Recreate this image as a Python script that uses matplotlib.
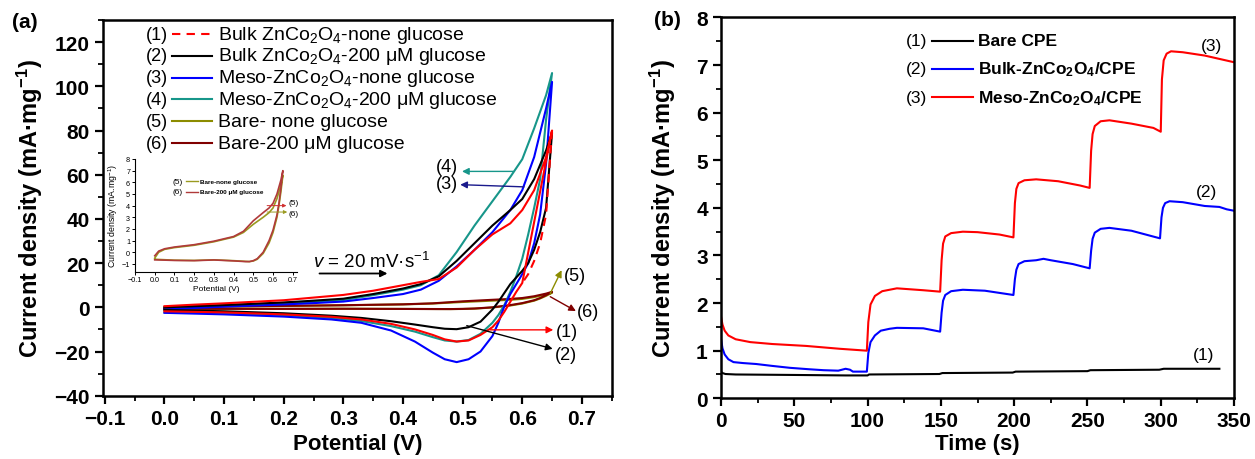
import matplotlib
matplotlib.use("Agg")
import matplotlib.pyplot as plt
from matplotlib.ticker import MultipleLocator

plt.rcParams['font.family'] = ['Liberation Sans', 'DejaVu Sans']
plt.rcParams['mathtext.fontset'] = 'custom'
plt.rcParams['mathtext.rm'] = 'Liberation Sans'
plt.rcParams['mathtext.it'] = 'Liberation Sans:italic'
plt.rcParams['mathtext.bf'] = 'Liberation Sans:bold'
plt.rcParams['mathtext.default'] = 'regular'

# ---- (a) cyclic voltammograms ----
E_up = [0, 0.05, 0.1, 0.15, 0.2, 0.25, 0.3, 0.35, 0.4, 0.43, 0.46, 0.49,
        0.52, 0.55, 0.58, 0.6, 0.62, 0.64, 0.65]
E_dn = [0.65, 0.64, 0.63, 0.62, 0.61, 0.6, 0.59, 0.58, 0.57, 0.56, 0.55, 0.53,
        0.51, 0.49, 0.47, 0.45, 0.42, 0.38, 0.33, 0.28, 0.2, 0.1, 0.0]

bulk_none_up = [0.5, 1.2, 1.8, 2.5, 3.2, 4.4, 5.6, 7.5, 10, 11.5, 12.8, 18,
                26, 33, 38, 44, 53, 68, 80]
bulk_none_dn = [80, 42, 29, 21, 15, 11, 7, 2.5, -2, -6, -9, -12.5,
                -15, -15.5, -14.5, -12.5, -10, -7.5, -5.5, -4.3, -3.2, -2.3, -1.8]
bulk_glu_up = [0.0, 0.5, 1.0, 1.6, 2.2, 3.0, 3.9, 6.0, 8.5, 10.5, 14, 21,
               29, 37, 44, 49, 58, 71, 79]
bulk_glu_dn = [79, 45, 34, 26, 20, 16.5, 13.5, 10.5, 6.5, 2.5, -1, -6.5,
               -9, -9.9, -9.7, -9, -7.8, -6.3, -4.8, -3.8, -2.7, -1.8, -1.2]
meso_none_up = [-1.0, -0.3, 0.3, 0.8, 1.3, 1.9, 2.6, 4.2, 6.0, 8.0, 12, 18.5,
                26, 34, 44, 53, 68, 90, 102]
meso_none_dn = [102, 65, 42, 29, 20, 15, 10.5, 6, 0.5, -7, -13, -20,
                -23.5, -24.8, -23.5, -20.5, -15.5, -10.5, -7, -5.5, -4.2, -3.2, -2.5]
meso_glu_up = [0.0, 0.5, 1.0, 1.5, 2.0, 2.5, 3.3, 5.5, 8.0, 10, 14.5, 25,
               37, 48, 59, 67, 81, 96, 106]
meso_glu_dn = [106, 85, 58, 45, 33, 22, 14, 7, 1, -3.5, -7, -12,
               -14.8, -15.5, -15, -13.5, -11, -8.5, -6.2, -4.8, -3.5, -2.7, -2.2]

# bare CPE (same data in main plot and inset)
Eb_up = [0, 0.02, 0.05, 0.1, 0.2, 0.3, 0.4, 0.45, 0.5, 0.55, 0.58, 0.6, 0.62, 0.64, 0.65]
Eb_dn = [0.65, 0.64, 0.63, 0.62, 0.6, 0.58, 0.55, 0.52, 0.5, 0.48, 0.46, 0.4, 0.3, 0.2, 0.1, 0.0]
bare_none_up = [-0.5, 0.0, 0.25, 0.4, 0.6, 0.9, 1.3, 1.7, 2.4, 3.0, 3.4, 3.8, 4.6, 5.8, 6.6]
bare_none_dn = [6.6, 5.2, 4.0, 3.0, 1.7, 0.8, -0.1, -0.6, -0.75, -0.8, -0.78, -0.72, -0.65, -0.7, -0.68, -0.6]
bare_glu_up = [-0.3, 0.1, 0.3, 0.45, 0.65, 0.95, 1.35, 1.8, 2.7, 3.4, 3.8, 4.2, 5.0, 6.2, 7.0]
bare_glu_dn = [7.0, 5.5, 4.2, 3.2, 1.9, 1.0, 0.0, -0.55, -0.72, -0.8, -0.8, -0.74, -0.66, -0.72, -0.7, -0.65]

# ---- (b) amperometric response ----
t_red = [0, 1, 2.5, 5, 10, 20, 35, 58, 81, 99.5, 100.5, 102, 105, 110, 120, 138, 149.5,
         150.5, 151.5, 153, 157, 165, 175, 190, 199.5, 200.5, 201.5, 203, 207, 215, 230, 245,
         251.5, 252.5, 253.5, 255, 259, 265, 280, 295, 300, 300.8, 302, 304, 307, 315, 330, 350]
y_red = [1.72, 1.55, 1.42, 1.32, 1.24, 1.18, 1.14, 1.10, 1.04, 1.00, 1.6, 1.97, 2.15, 2.25,
         2.31, 2.27, 2.24, 2.9, 3.25, 3.4, 3.47, 3.5, 3.49, 3.44, 3.38, 4.1, 4.4, 4.52, 4.58,
         4.6, 4.56, 4.47, 4.42, 5.2, 5.55, 5.72, 5.82, 5.84, 5.77, 5.68, 5.6, 6.7, 7.1, 7.24,
         7.29, 7.27, 7.2, 7.06]
t_blue = [0, 1, 2.5, 5, 8.5, 15, 24, 35, 47, 60, 70, 80, 85, 88, 90, 99.5, 100.5, 102, 105,
          109, 115, 120, 138, 149.5, 150.5, 151.5, 153, 157, 165, 180, 199.5, 200.5, 201.5,
          203, 207, 215, 220, 225, 240, 251.5, 252.5, 253.5, 255, 259, 265, 280, 299.5, 300.5,
          301.5, 303, 306, 315, 330, 340, 345, 350]
y_blue = [1.25, 1.05, 0.92, 0.82, 0.76, 0.74, 0.72, 0.68, 0.64, 0.61, 0.59, 0.58, 0.62, 0.6,
          0.56, 0.56, 0.95, 1.18, 1.32, 1.42, 1.46, 1.48, 1.47, 1.40, 1.8, 2.05, 2.17, 2.25,
          2.28, 2.26, 2.17, 2.5, 2.7, 2.82, 2.88, 2.9, 2.93, 2.9, 2.82, 2.73, 3.1, 3.35, 3.48,
          3.56, 3.58, 3.52, 3.36, 3.8, 4.0, 4.1, 4.14, 4.12, 4.04, 4.02, 3.97, 3.94]
t_black = [0, 1, 3, 10, 50, 85, 100, 101, 149, 151, 199, 201, 250, 252, 299, 302, 340]
y_black = [0.56, 0.53, 0.51, 0.5, 0.49, 0.48, 0.48, 0.5, 0.51, 0.53, 0.54, 0.56, 0.57,
           0.59, 0.6, 0.62, 0.62]

RED, BLACK, BLUE = '#FF0000', '#000000', '#0000FF'
TEAL, OLIVE, MAROON = '#17968A', '#8C8C00', '#800000'


def style_axes(ax, size):
    for s in ax.spines.values():
        s.set_linewidth(1.8)
    ax.tick_params(which='both', direction='out', top=False, right=False)
    ax.tick_params(which='major', length=6, width=1.6, labelsize=size)
    ax.tick_params(which='minor', length=3.5, width=1.3)
    for lab in ax.get_xticklabels() + ax.get_yticklabels():
        lab.set_fontweight('bold')


def manual_legend(ax, entries, x_num, x_line, x_text, ys, size, weight, lw=1.5, tsize=None):
    for (num, label, color, ls), y in zip(entries, ys):
        ax.text(x_num, y, num, transform=ax.transAxes, ha='center', va='center', fontsize=size)
        ax.plot(x_line, [y, y], transform=ax.transAxes, color=color, ls=ls, lw=lw, clip_on=False)
        ax.text(x_text, y, label, transform=ax.transAxes, ha='left', va='center',
                fontsize=tsize or size, fontweight=weight)


def arrow(ax, start, end, color, lw=1.0, ms=10):
    ax.annotate('', xy=end, xytext=start,
                arrowprops=dict(arrowstyle='-|>', color=color, lw=lw, mutation_scale=ms,
                                shrinkA=0, shrinkB=0))


fig = plt.figure(figsize=(12.55, 4.6), dpi=100)

# ================= panel (a) =================
ax = fig.add_axes([0.0821, 0.1376, 0.4053, 0.8167])
ax.plot(Eb_up + Eb_dn, bare_none_up + bare_none_dn, color=OLIVE, lw=1.5)
ax.plot(Eb_up + Eb_dn, bare_glu_up + bare_glu_dn, color=MAROON, lw=1.5)
ax.plot(E_up + E_dn, meso_glu_up + meso_glu_dn, color=TEAL, lw=1.5)
ax.plot(E_up + E_dn, meso_none_up + meso_none_dn, color=BLUE, lw=1.5)
ax.plot(E_up + E_dn, bulk_glu_up + bulk_glu_dn, color=BLACK, lw=1.5)
ax.plot(E_up + E_dn[5:], bulk_none_up + bulk_none_dn[5:], color=RED, lw=1.5)
ax.plot(E_dn[:6], bulk_none_dn[:6], color=RED, lw=1.5, ls=(0, (4, 3)))

ax.set_xlim(-0.103, 0.75)
ax.set_ylim(-40, 130)
ax.xaxis.set_minor_locator(MultipleLocator(0.05))
ax.yaxis.set_minor_locator(MultipleLocator(10))
ax.set_xticks([-0.1, 0.0, 0.1, 0.2, 0.3, 0.4, 0.5, 0.6, 0.7])
ax.set_xticklabels(['\u22120.1', '0.0', '0.1', '0.2', '0.3', '0.4', '0.5', '0.6', '0.7'])
ax.set_yticks([-40, -20, 0, 20, 40, 60, 80, 100, 120])
ax.set_yticklabels(['\u221240', '\u221220', '0', '20', '40', '60', '80', '100', '120'])
style_axes(ax, 15)
ax.set_xlabel('Potential (V)', fontsize=16, fontweight='bold', labelpad=4)
ax.set_ylabel('Current density (mA\u00b7mg$^{-1}$)', fontsize=17, fontweight='bold', labelpad=7)

leg_a = [('(1)', 'Bulk ZnCo$_2$O$_4$-none glucose', RED, (0, (4, 3))),
         ('(2)', 'Bulk ZnCo$_2$O$_4$-200 \u03bcM glucose', BLACK, '-'),
         ('(3)', 'Meso-ZnCo$_2$O$_4$-none glucose', BLUE, '-'),
         ('(4)', 'Meso-ZnCo$_2$O$_4$-200 \u03bcM glucose', TEAL, '-'),
         ('(5)', 'Bare- none glucose', OLIVE, '-'),
         ('(6)', 'Bare-200 \u03bcM glucose', MAROON, '-')]
rows_a = [1 - (35 + 21.8 * i - 21) / 375.7 for i in range(6)]
manual_legend(ax, leg_a, 0.106, [0.136, 0.214], 0.226, rows_a, 13, 'normal', tsize=14)

ax.text(0.249, 21.2, '$\\it{v}$ = 20 mV\u00b7s$^{-1}$', fontsize=13.5, va='center')
arrow(ax, (0.26, 15.3), (0.374, 15.3), BLACK, lw=1.3)

ann = [('(4)', (0.585, 61.5), (0.499, 61.5), (0.473, 63.7), TEAL),
       ('(3)', (0.603, 54.5), (0.496, 55.5), (0.473, 56.0), '#1A1A8C'),
       ('(5)', (0.647, 6.3), (0.666, 16.8), (0.688, 14.4), OLIVE),
       ('(6)', (0.647, 4.8), (0.690, -1.7), (0.710, -2.0), MAROON),
       ('(1)', (0.546, -10.2), (0.652, -10.2), (0.675, -11.0), RED),
       ('(2)', (0.507, -8.3), (0.651, -18.8), (0.673, -21.5), BLACK)]
for lab, s, e, tp, c in ann:
    arrow(ax, s, e, c)
    ax.text(tp[0], tp[1], lab, fontsize=13, ha='center', va='center')

fig.text(0.02, 0.95, '(a)', fontsize=15, fontweight='bold', ha='center', va='center')

# inset
ins = fig.add_axes([0.1076, 0.4076, 0.1288, 0.2446])
ins.patch.set_alpha(0)
ins.plot(Eb_up + Eb_dn, bare_none_up + bare_none_dn, color='#9A9A20', lw=1.2)
ins.plot(Eb_up + Eb_dn, bare_glu_up + bare_glu_dn, color='#B03A3A', lw=1.2)
ins.set_xlim(-0.1, 0.72)
ins.set_ylim(-1.65, 8)
ins.set_xticks([-0.1, 0.0, 0.1, 0.2, 0.3, 0.4, 0.5, 0.6, 0.7])
ins.set_xticklabels(['\u22120.1', '0.0', '0.1', '0.2', '0.3', '0.4', '0.5', '0.6', '0.7'])
ins.set_yticks(range(-1, 9))
ins.set_yticklabels(['\u22121'] + [str(v) for v in range(0, 9)])
ins.spines['top'].set_visible(False)
ins.spines['right'].set_visible(False)
for s in ins.spines.values():
    s.set_linewidth(0.8)
ins.tick_params(direction='out', length=2, width=0.7, labelsize=5.2, pad=1.5)
ins.set_xlabel('Potential (V)', fontsize=6, labelpad=1.5)
ins.set_ylabel('Current density (mA.mg$^{-1}$)', fontsize=6.3, labelpad=1)
leg_i = [('(5)', 'Bare-none glucose', '#9A9A20', '-'),
         ('(6)', 'Bare-200 \u03bcM glucose', '#B03A3A', '-')]
manual_legend(ins, leg_i, 0.263, [0.315, 0.391], 0.402, [0.804, 0.707], 6, 'bold',
              lw=1.0, tsize=4.6)
arrow(ins, (0.57, 4.0), (0.668, 4.0), '#D03030', lw=0.7, ms=5)
arrow(ins, (0.57, 3.45), (0.672, 3.45), '#9A9A20', lw=0.7, ms=5)
ins.text(0.678, 4.3, '(5)', fontsize=6, va='center')
ins.text(0.68, 3.35, '(6)', fontsize=6, va='center')

# ================= panel (b) =================
bx = fig.add_axes([0.5745, 0.132, 0.4088, 0.8278])
bx.plot(t_black, y_black, color=BLACK, lw=1.5)
bx.plot(t_blue, y_blue, color=BLUE, lw=1.5)
bx.plot(t_red, y_red, color=RED, lw=1.5)
bx.set_xlim(0, 350)
bx.set_ylim(0, 8)
bx.xaxis.set_major_locator(MultipleLocator(50))
bx.xaxis.set_minor_locator(MultipleLocator(25))
bx.yaxis.set_major_locator(MultipleLocator(1))
bx.yaxis.set_minor_locator(MultipleLocator(0.5))
style_axes(bx, 15)
bx.set_xlabel('Time (s)', fontsize=16, fontweight='bold', labelpad=2)
bx.set_ylabel('Current density (mA\u00b7mg$^{-1}$)', fontsize=17, fontweight='bold', labelpad=13)

leg_b = [('(1)', 'Bare CPE', BLACK, '-'),
         ('(2)', 'Bulk-ZnCo$_2$O$_4$/CPE', BLUE, '-'),
         ('(3)', 'Meso-ZnCo$_2$O$_4$/CPE', RED, '-')]
manual_legend(bx, leg_b, 0.3815, [0.411, 0.491], 0.501, [0.939, 0.865, 0.790], 12.5, 'bold')

bx.text(334.8, 7.41, '(3)', fontsize=12.5, ha='center', va='center')
bx.text(330.9, 4.34, '(2)', fontsize=12.5, ha='center', va='center')
bx.text(328.9, 0.92, '(1)', fontsize=12.5, ha='center', va='center')

fig.text(0.532, 0.955, '(b)', fontsize=15, fontweight='bold', ha='center', va='center')

fig.savefig('out.png', dpi=100)
